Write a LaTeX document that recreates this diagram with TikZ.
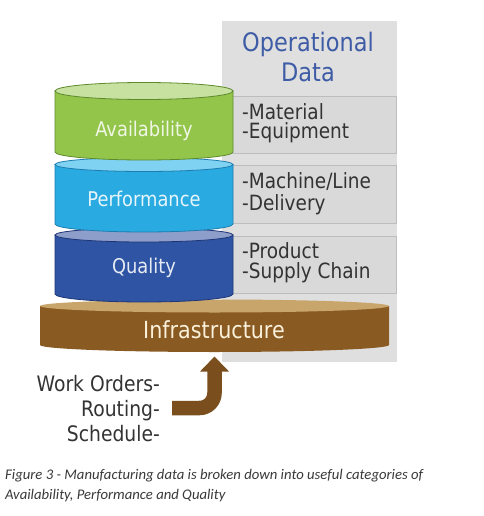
\documentclass[tikz,border=0pt]{standalone}
\usepackage{fontspec}
\setmainfont{DejaVu Sans}
\newfontfamily\tah{DejaVu Sans}[FakeStretch=0.88]
\newfontfamily\capfont{Carlito}
\usetikzlibrary{arrows.meta}
\definecolor{panelgray}{HTML}{DFDFDF}
\definecolor{boxgray}{HTML}{D9D9D9}
\definecolor{boxline}{HTML}{BDBDBD}
\definecolor{opblue}{HTML}{3E5BA6}
\definecolor{itemtext}{HTML}{333333}
\definecolor{gside}{HTML}{93C54B}
\definecolor{gtop}{HTML}{C6E1A0}
\definecolor{gline}{HTML}{5E8A2C}
\definecolor{bside}{HTML}{29AAE1}
\definecolor{btop}{HTML}{7FD2F2}
\definecolor{bline}{HTML}{1D7DB0}
\definecolor{qside}{HTML}{2F54A4}
\definecolor{qtop}{HTML}{8E9ECB}
\definecolor{qline}{HTML}{1E3676}
\definecolor{brside}{HTML}{8A5A23}
\definecolor{brtop}{HTML}{C8A66B}
\definecolor{brarrow}{HTML}{7A4E1D}
\definecolor{infratext}{HTML}{FBF1DA}
\definecolor{captext}{HTML}{3A3A3A}
\tikzset{
  panelbox/.style={fill=boxgray, draw=boxline, line width=1pt},
  itemtxt/.style={anchor=base west, inner sep=0pt, text=itemtext, font=\tah\fontsize{21}{21}\selectfont},
  optxt/.style={anchor=base, inner sep=0pt, text=opblue, font=\tah\fontsize{25.5}{26}\selectfont},
  cyllabel/.style={anchor=base, inner sep=0pt, font=\tah\fontsize{20.3}{20}\selectfont},
  worktxt/.style={anchor=base east, inner sep=0pt, text=itemtext, font=\tah\fontsize{21.3}{22}\selectfont},
  captxt/.style={anchor=base west, inner sep=0pt, text=captext, font=\capfont\itshape\fontsize{14.7}{15}\selectfont},
  bigarrow/.style={draw=brarrow, line width=14.5pt, rounded corners=15pt, -{Triangle[width=28pt,length=15pt]}}
}
\begin{document}
\begin{tikzpicture}[x=1pt,y=-1pt]
\useasboundingbox[fill=white] (0,0) rectangle (483,516);
% grey panel
\fill[panelgray] (222,21) rectangle (397,362);
\draw[panelbox] (222,97) rectangle (396,153);
\draw[panelbox] (222,165) rectangle (396,223);
\draw[panelbox] (222,236) rectangle (396,293);
\node[optxt] (op1) at (308,52) {Operational};
\node[optxt] (op2) at (308,82) {Data};
\node[itemtxt] (i1) at (242,119.5) {-Material};
\node[itemtxt] (i2) at (242,138.5) {-Equipment};
\node[itemtxt] (i3) at (242,188) {-Machine/Line};
\node[itemtxt] (i4) at (242,210) {-Delivery};
\node[itemtxt] (i5) at (242,258) {-Product};
\node[itemtxt] (i6) at (242,278) {-Supply Chain};
% infrastructure disk
\fill[brside] (40,306) -- (40,345) arc[start angle=180, end angle=360, x radius=174.5pt, y radius=7pt] -- (389,306) -- cycle;
\fill[brtop] (214.5,306) ellipse[x radius=174.5pt, y radius=6.5pt];
\node[cyllabel, text=infratext, font=\tah\fontsize{23.5}{24}\selectfont] (infra) at (214,338) {Infrastructure};
% quality
\filldraw[fill=qside, draw=qline, line width=0.8pt] (55,235) -- (55,294) arc[start angle=180, end angle=360, x radius=89pt, y radius=8pt] -- (233,235) -- cycle;
\filldraw[fill=qtop, draw=qline, line width=0.8pt] (144,235) ellipse[x radius=89pt, y radius=7pt];
\node[cyllabel, text=white!88!qside] (qual) at (144,273) {Quality};
% performance
\filldraw[fill=bside, draw=bline, line width=0.8pt] (55,164.5) -- (55,224) arc[start angle=180, end angle=360, x radius=89pt, y radius=8pt] -- (233,164.5) -- cycle;
\filldraw[fill=btop, draw=bline, line width=0.8pt] (144,164.5) ellipse[x radius=89pt, y radius=7pt];
\node[cyllabel, text=white!88!bside] (perf) at (144,206) {Performance};
% availability
\filldraw[fill=gside, draw=gline, line width=0.8pt] (55,91) -- (55,152) arc[start angle=180, end angle=360, x radius=89pt, y radius=8pt] -- (233,91) -- cycle;
\filldraw[fill=gtop, draw=gline, line width=0.8pt] (144,91) ellipse[x radius=89pt, y radius=8.5pt];
\node[cyllabel, text=white!85!gside] (avail) at (144,136) {Availability};
% arrow
\coordinate (asrc) at (172,408);
\coordinate (atip) at (214.5,356.5);
\draw[bigarrow] (asrc) -| (atip);
% left texts
\node[worktxt] (w1) at (160,391.5) {Work Orders-};
\node[worktxt] (w2) at (160,416.5) {Routing-};
\node[worktxt] (w3) at (160,441.5) {Schedule-};
% caption
\node[captxt] (c1) at (5,479.3) {Figure 3 - Manufacturing data is broken down into useful categories of};
\node[captxt] (c2) at (5,499.3) {Availability, Performance and Quality};
\end{tikzpicture}
\end{document}
